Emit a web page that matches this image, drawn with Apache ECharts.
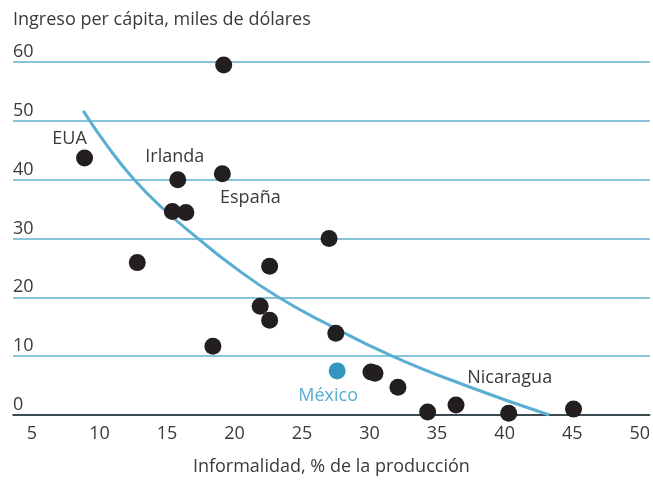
<!DOCTYPE html>
<html>
<head>
<meta charset="utf-8">
<script src="https://cdn.jsdelivr.net/npm/echarts@6/dist/echarts.min.js"></script>
<style>
  html, body { margin: 0; padding: 0; background: #fff; }
  #chart { width: 653px; height: 481px; }
</style>
</head>
<body>
<div id="chart"></div>
<script>
// 各国：非正规经济占比 (x) 与人均收入 (y)
var countryNames = ['', 'EUA', 'Irlanda', 'España', '', '', '', '', '', '', '', '', '', 'México', '', '', '', '', '', 'Nicaragua', ''];
var informalidad = [19.2, 8.9, 15.8, 19.1, 15.4, 16.4, 12.8, 27.0, 22.6, 21.9, 22.6, 18.4, 27.5, 27.6, 30.1, 30.4, 32.1, 34.3, 36.4, 40.3, 45.1];
var ingreso      = [59.5, 43.7, 40.0, 41.0, 34.6, 34.4, 25.9, 30.0, 25.3, 18.5, 16.1, 11.7, 13.9, 7.5, 7.3, 7.1, 4.7, 0.5, 1.7, 0.3, 1.0];

// 趋势线
var trendX = [8.8, 10.5, 12.5, 14.7, 17.2, 20.0, 23.2, 27.0, 31.6, 37.0, 43.3];
var trendY = [51.7, 46.0, 40.2, 35.1, 30.2, 25.1, 20.1, 15.3, 10.1, 5.1, 0];

var xTicks = [5, 10, 15, 20, 25, 30, 35, 40, 45, 50];

var FONT = 'Open Sans';
var FS = 18;
var TEXT = '#3a3a3a';
var BLUE = '#3597be';

// 标签位置
var labelOffsets = {
  'EUA': [-15, -19],
  'Irlanda': [-3, -23],
  'España': [28, 24],
  'México': [-9, 25],
  'Nicaragua': [1, -35]
};

var scatterData = [];
for (var i = 0; i < informalidad.length; i++) {
  var name = countryNames[i];
  var item = { value: [informalidad[i], ingreso[i]], name: name };
  if (name == 'México') {
    item.itemStyle = { color: BLUE };
  }
  if (name) {
    item.label = {
      show: true,
      position: 'inside',
      offset: labelOffsets[name],
      formatter: name,
      color: name == 'México' ? '#5aaed2' : TEXT
    };
  }
  scatterData.push(item);
}

var trendData = [];
for (var j = 0; j < trendX.length; j++) {
  trendData.push([trendX[j], trendY[j]]);
}

var myChart = echarts.init(document.getElementById('chart'));
var option = {
  animation: false,
  textStyle: { fontFamily: FONT },
  title: {
    text: 'Ingreso per cápita, miles de dólares',
    left: 8,
    top: 6,
    textStyle: { fontFamily: FONT, fontSize: FS, fontWeight: 'normal', color: TEXT }
  },
  grid: { left: 13, right: 0, top: 62, bottom: 65 },
  xAxis: {
    type: 'value',
    min: 3.6,
    max: 50.74,
    name: 'Informalidad, % de la producción',
    nameLocation: 'middle',
    nameGap: 43,
    nameTextStyle: { fontFamily: FONT, fontSize: FS, color: TEXT },
    axisLine: { show: true, lineStyle: { color: '#222', width: 1.5 } },
    axisTick: { show: false },
    splitLine: { show: false },
    axisLabel: {
      customValues: xTicks,
      fontSize: FS,
      color: TEXT,
      margin: 10
    }
  },
  yAxis: {
    type: 'value',
    min: 0,
    max: 60,
    interval: 10,
    axisLine: { show: false },
    axisTick: { show: false },
    splitLine: { show: true, lineStyle: { color: '#5fb0d0', width: 1.5 } },
    axisLabel: {
      inside: true,
      verticalAlign: 'bottom',
      margin: 0,
      padding: [0, 0, 1, 0],
      fontSize: FS,
      color: TEXT
    }
  },
  series: [
    {
      type: 'line',
      data: trendData,
      smooth: true,
      showSymbol: false,
      lineStyle: { color: '#5aaed2', width: 3 },
      z: 2
    },
    {
      type: 'scatter',
      data: scatterData,
      symbolSize: 17,
      itemStyle: { color: '#231f20', opacity: 1 },
      label: { fontFamily: FONT, fontSize: FS },
      z: 3
    }
  ]
};
myChart.setOption(option);
</script>
</body>
</html>
